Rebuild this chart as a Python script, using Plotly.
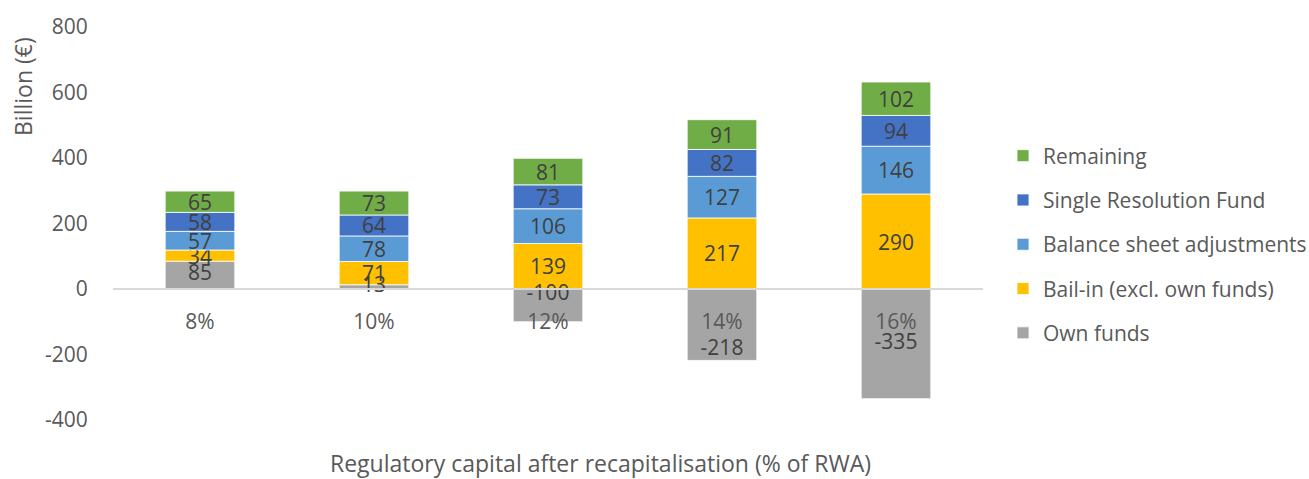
import plotly.graph_objects as go

categories = ["8%", "10%", "12%", "14%", "16%"]
own_funds = [85, 13, -100, -218, -335]
bail_in = [34, 71, 139, 217, 290]
balance_sheet = [57, 78, 106, 127, 146]
srf = [58, 64, 73, 82, 94]
remaining = [65, 73, 81, 91, 102]
y_tickvals = [-400, -200, 0, 200, 400, 600, 800]
y_ticktext = ["-400", "-200", "0", "200", "400", "600", "800"]
# where Excel put each own-funds label: middle of segment or near the segment end
own_label_anchor = ["mid", "mid", "mid", "end", "mid"]
own_label_pos = ["middle center", "middle center", "top center", "top center", "middle center"]

series = [
    ("Own funds", own_funds, "#A5A5A5"),
    ("Bail-in (excl. own funds)", bail_in, "#FFC000"),
    ("Balance sheet adjustments", balance_sheet, "#5B9BD5"),
    ("Single Resolution Fund", srf, "#4472C4"),
    ("Remaining", remaining, "#70AD47"),
]

FONT = "Open Sans"
TXT = "#595959"
W, H = 1309, 479
ML, MR, MT, MB = 113, 326, 27, 59
plot_w = W - ML - MR
plot_h = H - MT - MB

fig = go.Figure()
for i, (name, vals, col) in enumerate(series):
    is_own = (name == "Own funds")
    fig.add_trace(go.Bar(
        x=categories, y=vals, name=name,
        marker=dict(color=col, line=dict(color="white", width=0.8)),
        text=None if is_own else [str(v) for v in vals],
        textposition="none" if is_own else "inside",
        insidetextanchor="middle", textangle=0,
        constraintext="none",
        textfont=dict(family=FONT, size=21, color="#404040"),
        legendgroup=f"g{i}", legendrank=100 - i,
        hoverinfo="x+y+name",
    ))

own_label_y = [v if a == "end" else v / 2 for v, a in zip(own_funds, own_label_anchor)]
fig.add_trace(go.Scatter(
    x=categories, y=own_label_y,
    mode="text", text=[str(v) for v in own_funds],
    textposition=own_label_pos,
    textfont=dict(family=FONT, size=21, color="#404040"),
    showlegend=False, hoverinfo="skip",
))

y0_frac = (0 - (-400)) / 1200.0

fig.update_layout(
    width=W, height=H,
    barmode="relative",
    bargap=0.6,
    plot_bgcolor="white", paper_bgcolor="white",
    margin=dict(l=ML, r=MR, t=MT, b=MB, autoexpand=False),
    font=dict(family=FONT, size=21, color=TXT),
    xaxis=dict(
        anchor="free", position=y0_frac,
        showline=True, linecolor="#D9D9D9", linewidth=2,
        ticks="outside", ticklen=14, tickcolor="rgba(0,0,0,0)",
        tickfont=dict(family=FONT, size=21, color=TXT),
        showgrid=False, zeroline=False,
    ),
    yaxis=dict(
        range=[-400, 800], tickvals=y_tickvals, ticktext=y_ticktext,
        showgrid=False, zeroline=False, showline=False,
        ticks="outside", ticklen=20, tickcolor="rgba(0,0,0,0)",
        tickfont=dict(family=FONT, size=21, color=TXT),
    ),
    legend=dict(
        x=(1003 - ML) / plot_w, y=(H - MB - 244.5) / plot_h,
        xanchor="left", yanchor="middle",
        traceorder="grouped", tracegroupgap=14,
        font=dict(family=FONT, size=21, color=TXT),
        itemwidth=30,
    ),
    showlegend=True,
)

fig.add_annotation(
    text="Billion (€)", textangle=-90,
    xref="paper", yref="paper",
    x=(23 - ML) / plot_w, y=(H - MB - 87) / plot_h,
    xanchor="center", yanchor="middle", showarrow=False,
    font=dict(family=FONT, size=23, color=TXT),
)
fig.add_annotation(
    text="Regulatory capital after recapitalisation (% of RWA)",
    xref="paper", yref="paper",
    x=(600 - ML) / plot_w, y=(H - MB - 463) / plot_h,
    xanchor="center", yanchor="middle", showarrow=False,
    font=dict(family=FONT, size=23, color=TXT),
)

fig.write_html(
    "out.html",
    config={"displayModeBar": False},
    post_script="document.body.style.margin='0';document.body.style.overflow='hidden';",
)
